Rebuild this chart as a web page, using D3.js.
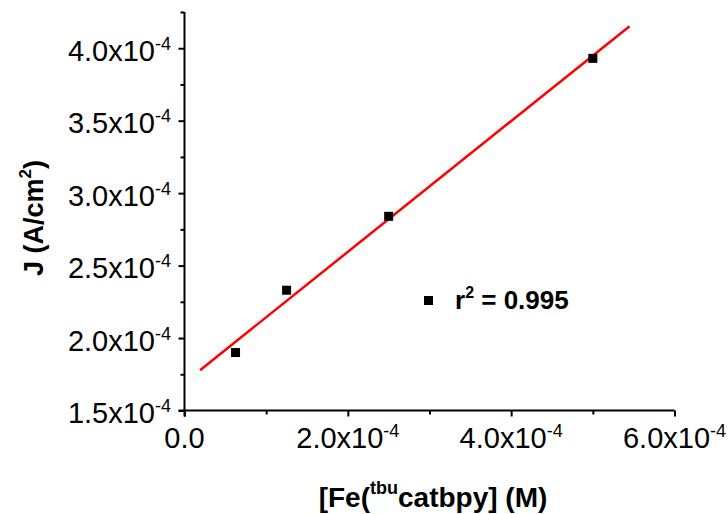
<!DOCTYPE html>
<html>
<head>
<meta charset="utf-8">
<script src="https://cdn.jsdelivr.net/npm/d3@7"></script>
<style>
  html, body { margin: 0; padding: 0; background: #fff; }
  svg { display: block; font-family: "Liberation Sans", Arial, sans-serif; }
</style>
</head>
<body>
<svg id="chart" width="728" height="514"></svg>
<script>
// Measured points: concentration (M) vs current density (A/cm^2)
const concentration = [6.25e-5, 1.25e-4, 2.5e-4, 5.0e-4];
const currentDensity = [1.90e-4, 2.33e-4, 2.84e-4, 3.93e-4];

// Extent over which the regression line is drawn (M)
const fitRange = [1.9e-5, 5.45e-4];

// Axis ticks
const xMajorTicks = [0, 2e-4, 4e-4, 6e-4];
const xMinorTicks = [1e-4, 3e-4, 5e-4];
const yMajorTicks = [1.5e-4, 2.0e-4, 2.5e-4, 3.0e-4, 3.5e-4, 4.0e-4];
const yMinorTicks = [1.75e-4, 2.25e-4, 2.75e-4, 3.25e-4, 3.75e-4, 4.25e-4];

const legendText = "= 0.995";

const svg = d3.select("#chart");

const x = d3.scaleLinear().domain([0, 6e-4]).range([184.5, 674.5]);
const y = d3.scaleLinear().domain([1.5e-4, 4.25e-4]).range([410.5, 12]);

// Least-squares fit of the measured points
const n = concentration.length;
const mx = d3.mean(concentration), my = d3.mean(currentDensity);
let sxy = 0, sxx = 0;
for (let i = 0; i < n; i++) {
  sxy += (concentration[i] - mx) * (currentDensity[i] - my);
  sxx += (concentration[i] - mx) ** 2;
}
const slope = sxy / sxx;
const intercept = my - slope * mx;

const tickFont = 29;
const supFont = 18;

// Tick label as "m.mx10^e" with a raised exponent
function sciLabel(sel, v) {
  if (v === 0) { sel.text("0.0"); return; }
  const e = Math.floor(Math.log10(Math.abs(v)) + 1e-9);
  const m = v / Math.pow(10, e);
  sel.append("tspan").text(m.toFixed(1) + "x10");
  sel.append("tspan").attr("font-size", supFont).attr("dy", -11).text(String(e));
}

// X axis
const xAxis = d3.axisBottom(x).tickValues(xMajorTicks).tickSize(6).tickFormat("");
const gx = svg.append("g").attr("transform", `translate(0,${y.range()[0]})`).call(xAxis);
gx.select(".domain").attr("stroke-width", 2).attr("d", `M${x.range()[0] - 6},0H${x.range()[1]}`);
gx.selectAll(".tick line").attr("stroke-width", 2);
svg.append("g").attr("transform", `translate(0,${y.range()[0]})`)
  .call(d3.axisBottom(x).tickValues(xMinorTicks).tickSize(4).tickFormat(""))
  .call(g => g.select(".domain").remove())
  .selectAll(".tick line").attr("stroke-width", 2);

svg.append("g").selectAll("text").data(xMajorTicks).join("text")
  .attr("x", d => x(d))
  .attr("y", 448)
  .attr("text-anchor", "middle")
  .attr("font-size", tickFont)
  .each(function (d) { sciLabel(d3.select(this), d); });

// Y axis
const yAxis = d3.axisLeft(y).tickValues(yMajorTicks).tickSize(6).tickFormat("");
const gy = svg.append("g").attr("transform", `translate(${x.range()[0]},0)`).call(yAxis);
gy.select(".domain").attr("stroke-width", 2).attr("d", `M0,${y.range()[0] + 6}V${y.range()[1]}`);
gy.selectAll(".tick line").attr("stroke-width", 2);
svg.append("g").attr("transform", `translate(${x.range()[0]},0)`)
  .call(d3.axisLeft(y).tickValues(yMinorTicks).tickSize(4).tickFormat(""))
  .call(g => g.select(".domain").remove())
  .selectAll(".tick line").attr("stroke-width", 2);

svg.append("g").selectAll("text").data(yMajorTicks).join("text")
  .attr("x", 171)
  .attr("y", d => y(d) + 12.5)
  .attr("text-anchor", "end")
  .attr("font-size", tickFont)
  .each(function (d) { sciLabel(d3.select(this), d); });

// Regression line
svg.append("line")
  .attr("x1", x(fitRange[0])).attr("y1", y(intercept + slope * fitRange[0]))
  .attr("x2", x(fitRange[1])).attr("y2", y(intercept + slope * fitRange[1]))
  .attr("stroke", "#ff0000").attr("stroke-width", 2.5);

// Data markers
const sq = 9;
svg.append("g").selectAll("rect").data(concentration).join("rect")
  .attr("x", (d) => x(d) - sq / 2)
  .attr("y", (d, i) => y(currentDensity[i]) - sq / 2)
  .attr("width", sq).attr("height", sq)
  .attr("fill", "#000");

// Legend
svg.append("rect").attr("x", 424).attr("y", 296).attr("width", sq).attr("height", sq).attr("fill", "#000");
const lg = svg.append("text").attr("x", 455).attr("y", 309)
  .attr("font-size", 26).attr("font-weight", "bold");
lg.append("tspan").text("r");
lg.append("tspan").attr("font-size", 16).attr("dy", -11).text("2");
lg.append("tspan").attr("dy", 11).text(" " + legendText);

// Axis titles
const xt = svg.append("text").attr("x", 433).attr("y", 507)
  .attr("text-anchor", "middle").attr("font-size", 28).attr("font-weight", "bold");
xt.append("tspan").text("[Fe(");
xt.append("tspan").attr("font-size", 18).attr("dy", -13).text("tbu");
xt.append("tspan").attr("dy", 13).text("catbpy] (M)");

const yt = svg.append("text")
  .attr("transform", "translate(43,218) rotate(-90)")
  .attr("text-anchor", "middle").attr("font-size", 27).attr("font-weight", "bold");
yt.append("tspan").text("J (A/cm");
yt.append("tspan").attr("font-size", 17).attr("dy", -12).text("2");
yt.append("tspan").attr("dy", 12).text(")");
</script>
</body>
</html>
